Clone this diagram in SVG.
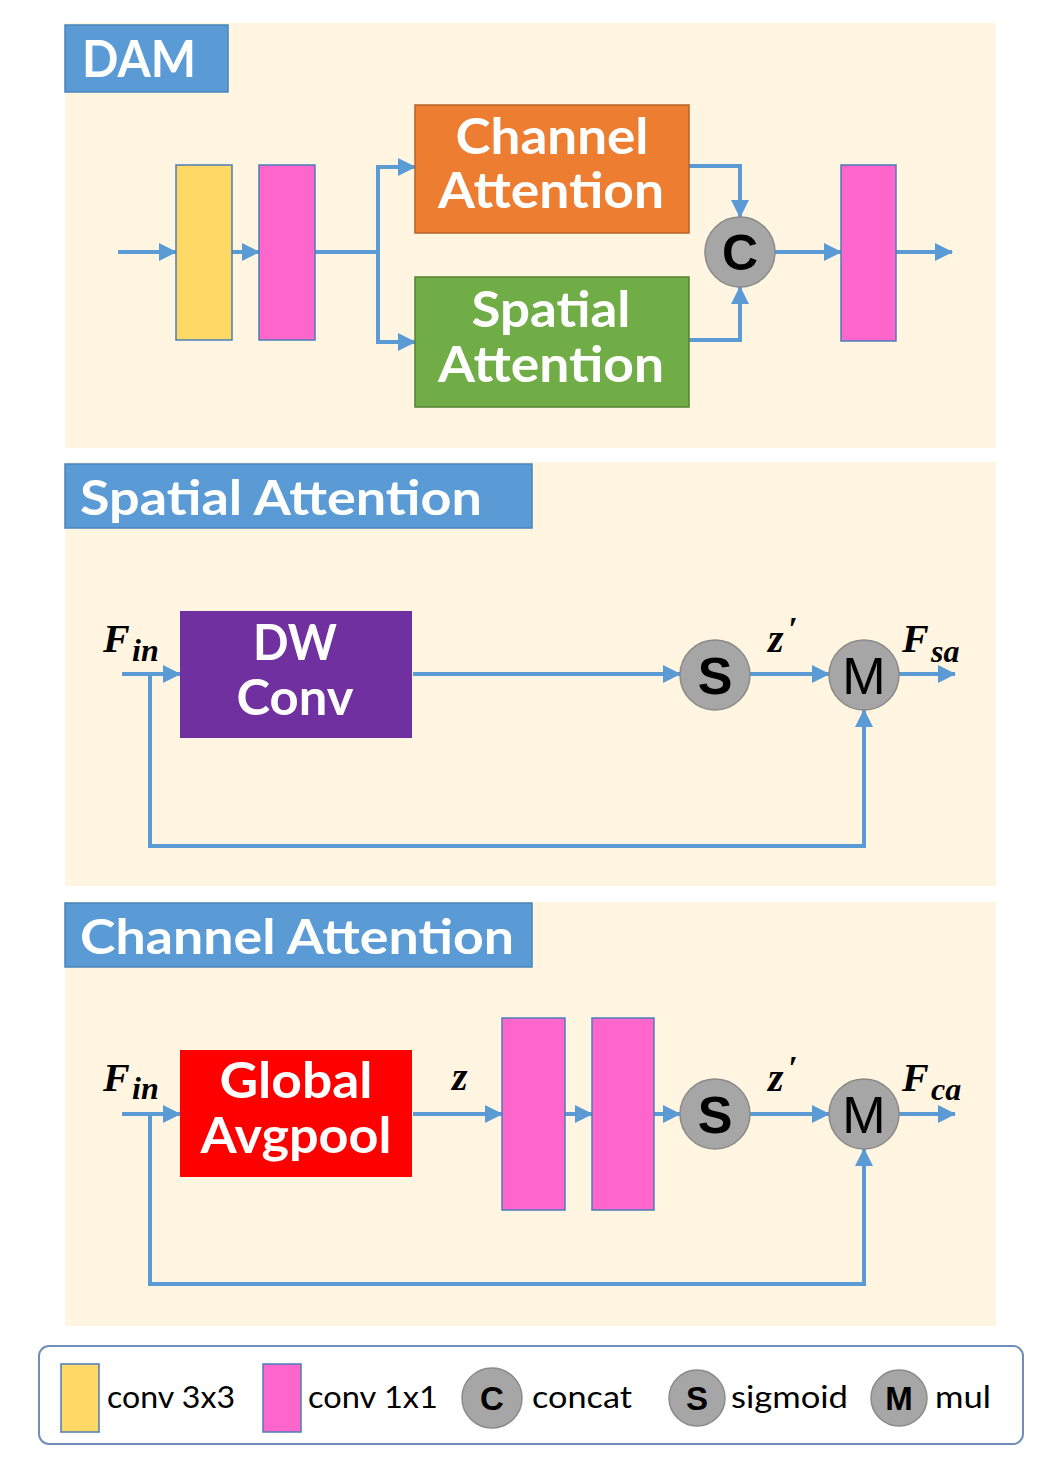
<svg xmlns="http://www.w3.org/2000/svg" width="1062" height="1466" viewBox="0 0 1062 1466">
<defs>
<marker id="ah" markerUnits="userSpaceOnUse" markerWidth="18" markerHeight="18" refX="17" refY="9" orient="auto">
<path d="M0,0 L18,9 L0,18 z" fill="#5B9BD5"/>
</marker>
<style>
.panel{fill:#FFF5E1}
.title{fill:#5B9BD5;stroke:#4A84BA;stroke-width:1.5}
.ttl{font-family:Lato,"Liberation Sans",sans-serif;font-weight:bold;fill:#fff}
.bt{font-family:Lato,"Liberation Sans",sans-serif;font-weight:bold;fill:#fff;font-size:50px;text-anchor:middle}
.pink{fill:#FF66CC;stroke:#4A7DBA;stroke-width:1.5}
.yellow{fill:#FFD966;stroke:#4A7DBA;stroke-width:1.5}
.circ{fill:#A6A6A6;stroke:#8A8A8A;stroke-width:1.5}
.cl{font-family:"Liberation Sans",Arial,sans-serif;fill:#000;text-anchor:middle}
.conn path{fill:none;stroke:#5B9BD5;stroke-width:4}
.m{font-family:"Liberation Serif","DejaVu Serif",serif;font-weight:bold;font-style:italic;fill:#000}
.lg{font-family:Lato,"Liberation Sans",sans-serif;fill:#000;font-size:30px}
</style>
</defs>
<rect width="1062" height="1466" fill="#fff"/>

<!-- panels -->
<rect class="panel" x="65" y="23" width="931" height="425"/>
<rect class="panel" x="65" y="462" width="931" height="424"/>
<rect class="panel" x="65" y="902" width="931" height="424"/>

<g id="title-dam"><rect class="title" x="65" y="25" width="163" height="67"/><text class="ttl" x="82" y="77" font-size="52" textLength="114" lengthAdjust="spacingAndGlyphs">DAM</text></g>
<g id="title-sa"><rect class="title" x="65" y="464" width="467" height="64"/><text class="ttl" x="80" y="515" font-size="48" textLength="402" lengthAdjust="spacingAndGlyphs">Spatial Attention</text></g>
<g id="title-ca"><rect class="title" x="65" y="903" width="467" height="64"/><text class="ttl" x="80" y="954" font-size="48" textLength="434" lengthAdjust="spacingAndGlyphs">Channel Attention</text></g>

<g class="conn">
<path d="M118,252 H176" marker-end="url(#ah)"/>
<path d="M232,252 H259" marker-end="url(#ah)"/>
<path d="M315,252 H378"/>
<path d="M378,252 V167 H415" marker-end="url(#ah)"/>
<path d="M378,252 V342 H415" marker-end="url(#ah)"/>
<path d="M689,166 H740 V217" marker-end="url(#ah)"/>
<path d="M689,340 H740 V287" marker-end="url(#ah)"/>
<path d="M775,252 H841" marker-end="url(#ah)"/>
<path d="M896,252 H952" marker-end="url(#ah)"/>

<path d="M122,674 H180" marker-end="url(#ah)"/>
<path d="M150,674 V846 H864 V710" marker-end="url(#ah)"/>
<path d="M413,674 H680" marker-end="url(#ah)"/>
<path d="M750,674 H829" marker-end="url(#ah)"/>
<path d="M899,674 H955" marker-end="url(#ah)"/>

<path d="M122,1114 H180" marker-end="url(#ah)"/>
<path d="M150,1114 V1284 H864 V1149" marker-end="url(#ah)"/>
<path d="M413,1114 H502" marker-end="url(#ah)"/>
<path d="M565,1114 H592" marker-end="url(#ah)"/>
<path d="M654,1114 H680" marker-end="url(#ah)"/>
<path d="M750,1114 H829" marker-end="url(#ah)"/>
<path d="M899,1114 H955" marker-end="url(#ah)"/>
</g>

<!-- DAM nodes -->
<g id="dam-conv3"><rect class="yellow" x="176" y="165" width="56" height="175"/></g>
<g id="dam-conv1a"><rect class="pink" x="259" y="165" width="56" height="175"/></g>
<g id="dam-ca"><rect x="415" y="105" width="274" height="128" fill="#ED7D31" stroke="#B8612A" stroke-width="1.5"/>
<text class="bt" x="552" y="154" textLength="193" lengthAdjust="spacingAndGlyphs">Channel</text>
<text class="bt" x="551" y="208" textLength="226" lengthAdjust="spacingAndGlyphs">Attention</text></g>
<g id="dam-sa"><rect x="415" y="277" width="274" height="130" fill="#70AD47" stroke="#548235" stroke-width="1.5"/>
<text class="bt" x="551" y="327" textLength="159" lengthAdjust="spacingAndGlyphs">Spatial</text>
<text class="bt" x="551" y="382" textLength="226" lengthAdjust="spacingAndGlyphs">Attention</text></g>
<g id="dam-concat"><circle class="circ" cx="740" cy="252" r="35"/><text class="cl" x="740" y="270" font-size="50" font-weight="bold">C</text></g>
<g id="dam-conv1b"><rect class="pink" x="841" y="165" width="55" height="176"/></g>

<!-- Spatial attention nodes -->
<g id="sa-dw"><rect x="180" y="611" width="232" height="127" fill="#7030A0"/>
<text class="bt" x="295" y="660" textLength="84" lengthAdjust="spacingAndGlyphs">DW</text>
<text class="bt" x="295" y="715" textLength="117" lengthAdjust="spacingAndGlyphs">Conv</text></g>
<g id="sa-s"><circle class="circ" cx="715" cy="675" r="35"/><text class="cl" x="715" y="694" font-size="52" font-weight="bold">S</text></g>
<g id="sa-m"><circle class="circ" cx="864" cy="675" r="35"/><text class="cl" x="864" y="694" font-size="52">M</text></g>
<g id="sa-labels">
<text class="m" x="103" y="652" font-size="40">F</text><text class="m" x="132" y="661" font-size="32">in</text>
<text class="m" x="768" y="652" font-size="40">z</text><text class="m" x="788" y="640" font-size="34" font-style="normal">′</text>
<text class="m" x="902" y="652" font-size="40">F</text><text class="m" x="931" y="662" font-size="32">sa</text>
</g>

<!-- Channel attention nodes -->
<g id="ca-gap"><rect x="180" y="1050" width="232" height="127" fill="#FF0000"/>
<text class="bt" x="296" y="1098" textLength="153" lengthAdjust="spacingAndGlyphs">Global</text>
<text class="bt" x="296" y="1153" textLength="191" lengthAdjust="spacingAndGlyphs">Avgpool</text></g>
<g id="ca-conv1a"><rect class="pink" x="502" y="1018" width="63" height="192"/></g>
<g id="ca-conv1b"><rect class="pink" x="592" y="1018" width="62" height="192"/></g>
<g id="ca-s"><circle class="circ" cx="715" cy="1114" r="35"/><text class="cl" x="715" y="1133" font-size="52" font-weight="bold">S</text></g>
<g id="ca-m"><circle class="circ" cx="864" cy="1114" r="35"/><text class="cl" x="864" y="1133" font-size="52">M</text></g>
<g id="ca-labels">
<text class="m" x="103" y="1091" font-size="40">F</text><text class="m" x="132" y="1099" font-size="32">in</text>
<text class="m" x="452" y="1090" font-size="40">z</text>
<text class="m" x="768" y="1091" font-size="40">z</text><text class="m" x="788" y="1079" font-size="34" font-style="normal">′</text>
<text class="m" x="902" y="1091" font-size="40">F</text><text class="m" x="931" y="1100" font-size="32">ca</text>
</g>

<!-- Legend -->
<g id="legend">
<rect x="39" y="1346" width="984" height="98" rx="10" fill="#fff" stroke="#6F8FB8" stroke-width="2"/>
<rect class="yellow" x="61" y="1364" width="38" height="68"/>
<text class="lg" x="107" y="1408" textLength="128" lengthAdjust="spacingAndGlyphs">conv 3x3</text>
<rect class="pink" x="263" y="1364" width="38" height="68"/>
<text class="lg" x="308" y="1408" textLength="130" lengthAdjust="spacingAndGlyphs">conv 1x1</text>
<circle class="circ" cx="492" cy="1398" r="30"/><text class="cl" x="492" y="1410" font-size="33" font-weight="bold">C</text>
<text class="lg" x="532" y="1408" textLength="100" lengthAdjust="spacingAndGlyphs">concat</text>
<circle class="circ" cx="697" cy="1398" r="28"/><text class="cl" x="697" y="1410" font-size="33" font-weight="bold">S</text>
<text class="lg" x="731" y="1408" textLength="117" lengthAdjust="spacingAndGlyphs">sigmoid</text>
<circle class="circ" cx="899" cy="1398" r="28"/><text class="cl" x="899" y="1410" font-size="33" font-weight="bold">M</text>
<text class="lg" x="935" y="1408" textLength="56" lengthAdjust="spacingAndGlyphs">mul</text>
</g>
</svg>
